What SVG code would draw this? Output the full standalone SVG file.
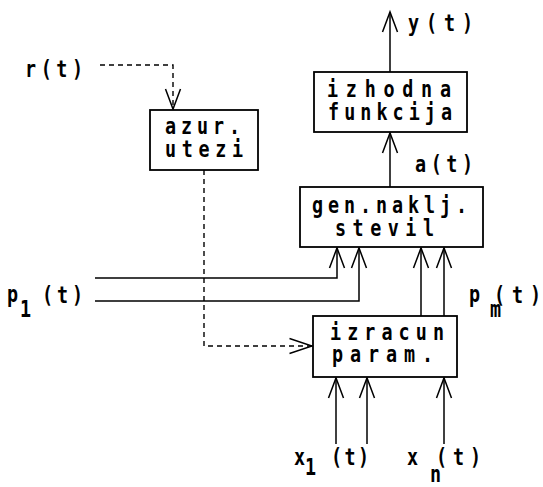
<svg xmlns="http://www.w3.org/2000/svg" width="543" height="487" viewBox="0 0 543 487">
  <style>
    .box { fill: #fff; stroke: #000; stroke-width: 1.8; }
    .wire { fill: none; stroke: #000; stroke-width: 1.5; }
    .dash { fill: none; stroke: #000; stroke-width: 1.4; stroke-dasharray: 5 4; }
    text { font-family: "DejaVu Sans Mono", "Liberation Mono", monospace; font-weight: bold; font-size: 23px; fill: #000; }
  </style>
  <defs>
    <marker id="open" markerUnits="userSpaceOnUse" markerWidth="30" markerHeight="30" viewBox="-25 -12 30 24" refX="0" refY="0" orient="auto" overflow="visible">
      <path d="M -20 -7.5 L 0 0 L -20 7.5" fill="none" stroke="#000" stroke-width="1.5"/>
    </marker>
    <marker id="open-long" markerUnits="userSpaceOnUse" markerWidth="30" markerHeight="30" viewBox="-28 -12 32 24" refX="0" refY="0" orient="auto" overflow="visible">
      <path d="M -24 -8 L 0 0 L -24 8" fill="none" stroke="#000" stroke-width="1.5"/>
    </marker>
  </defs>

  <!-- connectors -->
  <g id="connectors">
    <!-- r(t) to weight update -->
    <path class="dash" d="M 100 65 H 173 V 109" marker-end="url(#open)"/>
    <!-- weight update to parameter computation -->
    <path class="dash" d="M 204 170 V 346 H 312" marker-end="url(#open-long)"/>
    <!-- p1(t) inputs into generator -->
    <path class="wire" d="M 95 278 H 337 V 248" marker-end="url(#open)"/>
    <path class="wire" d="M 95 301 H 359 V 248" marker-end="url(#open)"/>
    <!-- pm(t) from parameter computation into generator -->
    <path class="wire" d="M 421 316 V 248" marker-end="url(#open)"/>
    <path class="wire" d="M 444 316 V 248" marker-end="url(#open)"/>
    <!-- x inputs -->
    <path class="wire" d="M 336 444 V 378" marker-end="url(#open)"/>
    <path class="wire" d="M 367 444 V 378" marker-end="url(#open)"/>
    <path class="wire" d="M 444 444 V 378" marker-end="url(#open)"/>
    <!-- a(t) into output function -->
    <path class="wire" d="M 390 187 V 133" marker-end="url(#open)"/>
    <!-- y(t) output -->
    <path class="wire" d="M 390 72 V 12" marker-end="url(#open)"/>
  </g>

  <!-- narrow lettering: every text group is squeezed to 80% width, so x values are divided by 0.8 -->
  <g id="azur">
    <rect class="box" x="150" y="110" width="108" height="60"/>
    <g transform="scale(0.8,1)">
      <text x="206.25" y="134" textLength="93.75" lengthAdjust="spacing">azur.</text>
      <text x="206.25" y="157" textLength="97.5" lengthAdjust="spacing">utezi</text>
    </g>
  </g>

  <g id="izhodna">
    <rect class="box" x="314" y="72" width="153" height="60"/>
    <g transform="scale(0.8,1)">
      <text x="408.75" y="97" textLength="155" lengthAdjust="spacing">izhodna</text>
      <text x="410" y="120" textLength="155" lengthAdjust="spacing">funkcija</text>
    </g>
  </g>

  <g id="gen">
    <rect class="box" x="300" y="187" width="183" height="60"/>
    <g transform="scale(0.8,1)">
      <text x="390" y="213" textLength="193.75" lengthAdjust="spacing">gen.naklj.</text>
      <text x="418.75" y="236" textLength="123.75" lengthAdjust="spacing">stevil</text>
    </g>
  </g>

  <g id="izracun">
    <rect class="box" x="313" y="316" width="144" height="61"/>
    <g transform="scale(0.8,1)">
      <text x="412.5" y="340" textLength="142.5" lengthAdjust="spacing">izracun</text>
      <text x="415" y="362" textLength="126.25" lengthAdjust="spacing">param.</text>
    </g>
  </g>

  <!-- signal labels -->
  <g id="labels" transform="scale(0.8,1)">
    <text x="31.25" y="77" textLength="72.5" lengthAdjust="spacing">r(t)</text>
    <text x="510" y="31" textLength="81.25" lengthAdjust="spacing">y(t)</text>
    <text x="518.75" y="172" textLength="72.5" lengthAdjust="spacing">a(t)</text>

    <text x="8.75" y="302">p</text>
    <text x="25" y="317">1</text>
    <text x="52.5" y="303" textLength="51.25" lengthAdjust="spacing">(t)</text>

    <text x="586.25" y="302">p</text>
    <text x="612.5" y="317">m</text>
    <text x="617.5" y="303" textLength="58.75" lengthAdjust="spacing">(t)</text>

    <text x="367.5" y="465">x</text>
    <text x="381.25" y="475">1</text>
    <text x="413.75" y="465" textLength="47.5" lengthAdjust="spacing">(t)</text>

    <text x="508.75" y="465">x</text>
    <text x="537.5" y="482">n</text>
    <text x="545" y="465" textLength="56.25" lengthAdjust="spacing">(t)</text>
  </g>
</svg>
